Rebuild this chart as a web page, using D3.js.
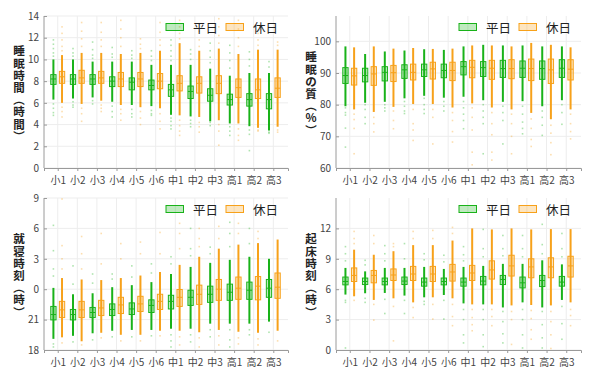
<!DOCTYPE html>
<html>
<head>
<meta charset="utf-8">
<script src="https://cdn.jsdelivr.net/npm/d3@7"></script>
<style>
  body { margin: 0; background: #fff; }
  text { font-family: "Noto Sans CJK JP", "Noto Sans", sans-serif; }
</style>
</head>
<body>
<div id="chart"></div>
<script>
// grade categories
var grades = ["小1","小2","小3","小4","小5","小6","中1","中2","中3","高1","高2","高3"];
var seriesNames = ["平日","休日"];

// each box: [whisker low, q1, median, q3, whisker high]
// sleep duration (hours)
var sleepWk = [[6.3,7.7,8.2,8.6,10.0],[6.4,7.7,8.2,8.6,10.0],[6.5,7.7,8.2,8.6,9.8],[6.1,7.5,8.0,8.4,9.8],[5.8,7.2,7.9,8.3,9.8],[5.7,7.2,7.6,8.1,9.5],
               [4.9,6.6,7.2,7.7,9.5],[4.75,6.4,7.05,7.55,9.5],[4.3,6.15,6.7,7.3,9.15],[4.1,5.8,6.3,6.8,8.5],[3.85,5.7,6.3,6.85,8.75],[3.45,5.45,6.3,6.85,8.75]];
var sleepHo = [[6.0,7.8,8.4,8.9,10.4],[5.9,7.8,8.3,9.0,10.6],[6.2,7.8,8.3,8.9,10.6],[5.8,7.5,8.2,8.8,10.5],[5.6,7.5,8.2,8.8,10.6],[5.5,7.3,8.0,8.7,10.8],
               [4.85,7.1,7.8,8.5,11.5],[4.7,6.9,7.8,8.4,10.8],[4.4,6.85,7.8,8.5,11.0],[4.1,6.5,7.4,8.2,10.5],[3.7,6.4,7.2,8.2,10.9],[3.8,6.5,7.35,8.3,10.9]];
var sleepWkOut = [[11.8,11.4,11.0,10.6,10.3,5.9,5.5,5.1,4.85],[11.0,10.6,10.3,6.1,5.8,5.6],[11.6,10.9,10.4,10.1,6.2,5.9],[11.1,10.5,10.2,5.7,5.2,4.7],
                  [10.8,10.4,10.1,5.4,5.0,4.7],[10.8,10.3,9.9,5.3,5.0,4.85],[11.8,11.3,10.8,10.3,9.9,4.6,4.3,3.9,3.6],[10.9,10.5,10.0,4.4,4.1,3.8],
                  [11.5,10.8,10.2,9.7,4.2,3.9],[11.3,10.6,9.9,9.2,3.8,3.4,3.0],[10.7,10.0,9.4,3.5,3.1,1.6],[9.8,9.3,3.3,3.2]];
var sleepHoOut = [[13.0,12.4,11.8,11.2,10.8,5.6,5.2,4.7],[13.4,12.6,11.9,11.2,5.5,5.0,4.3],[13.4,12.5,11.8,11.2,5.8,5.5,5.2],[13.6,12.8,12.0,11.2,5.4,5.0,4.4],
                  [11.9,11.4,11.0,5.2,4.6,4.0],[13.4,12.5,11.8,11.3,5.0,4.3,3.6],[13.6,13.0,12.4,11.9,4.4,3.9,3.4,3.0],[13.3,12.6,11.8,11.2,4.2,3.8,3.3],
                  [13.75,13.0,12.2,11.5,4.0,3.4,2.1],[13.6,12.8,12.0,11.2,3.6,3.0,2.55],[12.4,11.8,11.3,3.5,3.4],[11.6,11.3,3.5,3.3]];

// sleep quality (%)
var qualWk = [[79.5,86.7,89.2,91.7,98.4],[80.6,87.2,89.2,91.5,96.0],[80.9,87.5,90.2,92.0,96.8],[82.0,88.3,91.0,92.6,97.1],[82.8,88.9,91.0,92.8,97.5],[82.2,88.5,90.8,92.8,97.3],
              [82.5,89.4,92.0,93.6,98.4],[81.4,88.9,91.7,93.6,98.9],[80.9,88.6,91.4,94.0,98.7],[81.1,88.6,91.5,93.8,98.7],[79.5,88.0,91.4,93.8,98.4],[81.4,88.6,91.5,94.2,98.4]];
var qualHo = [[78.5,86.2,89.1,91.5,98.1],[77.7,86.1,89.7,92.0,98.4],[79.3,87.3,90.1,92.4,97.7],[80.2,87.8,90.2,92.8,97.9],[80.2,88.1,91.3,93.4,97.6],[79.1,87.6,90.8,93.4,97.7],
              [80.4,88.5,91.8,94.0,98.7],[79.1,88.0,91.5,94.0,98.7],[78.5,88.2,91.4,94.2,98.4],[77.4,87.6,91.4,94.4,99.5],[75.4,86.7,91.0,94.4,98.9],[78.5,87.8,91.2,94.2,98.1]];
var qualWkOut = [[79.0,77.5,76.7,72.6,66.6],[80.0,78.5,76.0,74.0],[80.0,79.0,78.0],[81.0,79.5,78.0,77.2],[82.0,80.0,78.5,77.2],[81.0,79.5,78.0],
                 [81.0,79.0,77.0,75.0,72.4],[80.0,78.0,76.0,74.0,64.5],[79.5,77.5,75.0,67.6],[79.5,77.0,74.5,72.5,70.8],[78.0,76.0,73.5,70.3],[80.0,77.5,73.8]];
var qualHoOut = [[77.0,75.3,72.5,64.5],[76.0,74.0,71.4],[78.0,75.0,72.4],[78.5,74.0,72.0,68.7],[78.5,76.0,67.6],[77.5,75.0,71.5,68.2],
                 [79.0,76.0,72.0,65.0,61.0],[77.5,74.0,70.5,65.0,62.5],[77.0,74.0,70.0,64.5],[75.5,72.5,69.0,66.8],[73.5,71.0,68.0,64.2],[77.0,74.0,71.5,69.2]];

// bedtime (hours on an 18 -> 33 clock, 24 = midnight)
var bedWk = [[19.1,20.97,21.5,22.3,24.13],[19.4,20.97,21.5,22.0,23.5],[19.65,21.2,21.7,22.2,23.6],[19.9,21.4,22.0,22.55,24.2],[19.98,21.5,22.05,22.65,24.4],[19.98,21.7,22.4,22.95,24.7],
             [20.1,22.05,22.8,23.4,25.5],[20.1,22.4,23.2,23.9,26.2],[20.6,22.7,23.5,24.3,26.6],[20.6,22.9,23.7,24.5,26.9],[20.6,23.0,23.9,24.7,27.2],[20.8,23.2,24.1,24.96,27.0]];
var bedHo = [[19.25,21.2,21.96,22.8,25.1],[18.86,21.2,21.96,22.8,24.96],[19.7,21.4,22.15,22.9,24.9],[19.5,21.6,22.45,23.2,25.1],[19.5,21.8,22.55,23.3,25.35],[19.9,22.0,22.8,23.5,25.7],
             [19.9,22.3,23.2,23.97,26.4],[19.75,22.5,23.5,24.4,27.2],[19.98,22.9,24.0,24.96,28.0],[19.8,23.0,24.1,25.2,28.4],[19.7,22.95,24.3,25.25,28.55],[19.9,23.1,24.2,25.6,28.9]];
var bedWkOut = [[30.3,27.8,26.0,25.3,18.6,18.3],[26.3,24.5,18.8],[25.5,24.6,19.0],[25.5,25.0,19.3],[26.3,25.2,19.3],[26.5,25.6,19.4],
                [27.2,26.5,19.5,18.9,18.3],[30.0,28.0,27.3,19.5,18.8],[28.15,27.5,20.0,19.3],[30.6,29.5,28.2,20.0,19.0,18.3],[30.0,28.5,20.0,19.5],[19.75]];
var bedHoOut = [[32.9,28.3,27.0,26.0,18.7],[29.2,27.5,26.0,18.5],[29.5,26.5,19.2],[28.5,27.0,18.9],[28.65,27.5,18.9],[29.6,27.5,19.4],
                [30.5,29.5,28.0,19.3,18.5],[30.0,29.0,28.2,19.2,18.3],[30.2,29.0,19.4,18.5],[30.5,29.5,19.2,18.6],[29.7,29.0,19.1,18.5],[18.9]];

// wake-up time (hours)
var wakeWk = [[5.47,6.43,6.76,7.2,8.1],[5.6,6.46,6.76,7.1,7.76],[5.63,6.43,6.76,7.1,8.1],[5.37,6.46,6.8,7.2,8.1],[5.2,6.3,6.7,7.1,8.2],[5.43,6.43,6.76,7.1,8.0],
              [4.6,6.3,6.7,7.1,8.2],[4.5,6.43,6.8,7.26,8.3],[4.2,6.46,6.96,7.36,8.5],[4.7,6.13,6.63,7.2,8.5],[4.2,6.26,6.86,7.36,8.85],[4.94,6.3,6.7,7.26,8.45]];
var wakeHo = [[5.3,6.76,7.36,8.1,9.9],[4.94,6.63,7.36,7.85,9.4],[5.1,6.86,7.4,8.0,9.75],[4.7,6.86,7.5,8.25,10.35],[5.2,6.76,7.5,8.25,10.35],[5.1,6.8,7.7,8.45,10.8],
              [4.5,6.86,7.6,8.35,12.0],[4.5,7.0,7.9,8.8,11.9],[4.4,7.3,8.3,9.35,12.0],[4.44,7.13,8.2,9.0,11.9],[4.4,7.13,8.2,9.1,11.93],[4.7,7.2,8.3,9.25,11.93]];
var wakeWkOut = [[10.2,9.5,8.8,4.9,4.7,0.2],[8.85,8.4,5.1,4.7],[10.3,9.5,8.8,5.0,3.6],[10.5,9.0,4.9,3.6],[9.5,8.9,4.8,4.5],[9.35,8.7,4.9,3.05],
                 [10.2,9.4,8.8,4.0,3.0,1.5,0.7],[11.9,10.0,9.2,4.0,3.0,1.5,0.33],[11.3,10.0,9.3,3.8,2.8,1.6,0.7],[11.3,10.0,9.2,4.0,3.0,1.5,0.2],
                 [12.4,10.4,9.5,3.8,2.5,1.2,0.2],[11.5,10.0,9.2,4.3,2.6,1.06]];
var wakeHoOut = [[11.7,11.0,10.5,4.9],[11.3,10.5,4.5,2.95],[10.5,10.2,4.3,0.9],[11.7,11.0,4.2,3.2],[11.8,11.0,4.5,3.05],[12.1,11.5,4.5,3.3,2.4],
                 [4.0,3.2,2.5,1.9],[4.0,3.3,2.4],[3.8,3.0,0.55],[3.9,3.1,2.0,1.06],[3.8,2.8,1.5,0.15],[4.0,3.4,2.4]];

// axis ticks
var sleepTicks = [0,2,4,6,8,10,12,14];
var qualTicks = [60,70,80,90,100];
var bedTicks = [18,21,24,27,30,33];
var bedTickLabels = ["18","21","0","3","6","9"];
var wakeTicks = [0,3,6,9,12];

var colors = ["#19b219", "#f7a11a"];
var fills = ["rgba(25,178,25,0.28)", "rgba(247,161,26,0.28)"];

var W = 598, H = 374;
var svg = d3.select("#chart").append("svg").attr("width", W).attr("height", H);

var panels = [
  { left: 44, top: 16, right: 288, bottom: 168, ymin: 0, ymax: 14, ticks: sleepTicks, labels: null,
    title: ["睡","眠","時","間","︵","時","間","︶"], data: [sleepWk, sleepHo], out: [sleepWkOut, sleepHoOut] },
  { left: 336, top: 16, right: 581, bottom: 168, ymin: 60, ymax: 108, ticks: qualTicks, labels: null,
    title: ["睡","眠","の","質","︵","%","︶"], data: [qualWk, qualHo], out: [qualWkOut, qualHoOut] },
  { left: 44, top: 198, right: 288, bottom: 350, ymin: 18, ymax: 33, ticks: bedTicks, labels: bedTickLabels,
    title: ["就","寝","時","刻","︵","時","︶"], data: [bedWk, bedHo], out: [bedWkOut, bedHoOut] },
  { left: 336, top: 198, right: 581, bottom: 350, ymin: 0, ymax: 15, ticks: wakeTicks, labels: null,
    title: ["起","床","時","刻","︵","時","︶"], data: [wakeWk, wakeHo], out: [wakeWkOut, wakeHoOut] }
];

panels.forEach(function (p) {
  var g = svg.append("g");
  var x = d3.scaleLinear().domain([0.3, 12.75]).range([p.left, p.right]);
  var y = d3.scaleLinear().domain([p.ymin, p.ymax]).range([p.bottom, p.top]);

  // grid
  g.selectAll(".hgrid").data(p.ticks).enter().append("line")
    .attr("x1", p.left).attr("x2", p.right)
    .attr("y1", function (d) { return y(d); }).attr("y2", function (d) { return y(d); })
    .style("stroke", "#ededed").style("stroke-width", 1);
  g.selectAll(".vgrid").data(grades).enter().append("line")
    .attr("x1", function (d, i) { return x(i + 1); }).attr("x2", function (d, i) { return x(i + 1); })
    .attr("y1", p.top).attr("y2", p.bottom)
    .style("stroke", "#ededed").style("stroke-width", 1);

  // outliers
  [0, 1].forEach(function (s) {
    var off = s === 0 ? -0.22 : 0.22;
    p.out[s].forEach(function (vals, i) {
      g.selectAll(null).data(vals).enter().append("rect")
        .attr("x", x(i + 1 + off) - 0.8).attr("y", function (d) { return y(d) - 0.8; })
        .attr("width", 1.6).attr("height", 1.6)
        .style("fill", colors[s]).style("opacity", 0.35);
    });
  });

  // boxes
  [0, 1].forEach(function (s) {
    var off = s === 0 ? -0.22 : 0.22;
    var bw = x(0.27) - x(0);
    var bx = g.selectAll(null).data(p.data[s]).enter().append("g");
    bx.append("line")
      .attr("x1", function (d, i) { return x(i + 1 + off); }).attr("x2", function (d, i) { return x(i + 1 + off); })
      .attr("y1", function (d) { return y(d[0]); }).attr("y2", function (d) { return y(d[4]); })
      .style("stroke", colors[s]).style("stroke-width", 2);
    bx.append("rect")
      .attr("x", function (d, i) { return x(i + 1 + off) - bw / 2; })
      .attr("y", function (d) { return y(d[3]); })
      .attr("width", bw)
      .attr("height", function (d) { return y(d[1]) - y(d[3]); })
      .style("fill", fills[s]).style("stroke", colors[s]).style("stroke-width", 1);
    bx.append("line")
      .attr("x1", function (d, i) { return x(i + 1 + off) - bw / 2; })
      .attr("x2", function (d, i) { return x(i + 1 + off) + bw / 2; })
      .attr("y1", function (d) { return y(d[2]); }).attr("y2", function (d) { return y(d[2]); })
      .style("stroke", colors[s]).style("stroke-width", 1);
  });

  // axes
  var xAxis = d3.axisBottom(x).tickValues(d3.range(1, 13)).tickSize(3)
    .tickFormat(function (d) { return grades[d - 1]; });
  var xg = g.append("g").attr("transform", "translate(0," + p.bottom + ")").call(xAxis);
  xg.select(".domain").style("stroke", "#9a9a9a");
  xg.selectAll(".tick line").style("stroke", "#9a9a9a");
  xg.selectAll("text").style("font-size", "10px").style("fill", "#444").attr("dy", "0.95em");

  var yAxis = d3.axisLeft(y).tickValues(p.ticks).tickSize(-3)
    .tickFormat(function (d, i) { return p.labels ? p.labels[i] : d; });
  var yg = g.append("g").attr("transform", "translate(" + p.left + ",0)").call(yAxis);
  yg.select(".domain").attr("d", "M0," + p.top + "V" + p.bottom).style("stroke", "#9a9a9a");
  yg.selectAll(".tick line").style("stroke", "#9a9a9a");
  yg.selectAll("text").attr("x", -5).style("font-size", "10px").style("fill", "#444");

  // vertical y title, one glyph per line
  var step = 12.2;
  var cy = (p.top + p.bottom) / 2 + 1;
  var y0 = cy - (p.title.length - 1) * step / 2;
  g.selectAll(null).data(p.title).enter().append("text")
    .attr("x", p.left - 25)
    .attr("y", function (d, i) { return y0 + i * step; })
    .attr("text-anchor", "middle").attr("dominant-baseline", "central")
    .style("font-size", "11.5px").style("font-weight", "bold").style("fill", "#222")
    .text(function (d) { return d; });

  // legend
  var lg = g.append("g");
  [0, 1].forEach(function (s) {
    var lx = p.right - (s === 0 ? 122 : 62);
    lg.append("rect").attr("x", lx).attr("y", p.top + 7.5).attr("width", 17.5).attr("height", 7)
      .style("fill", fills[s]).style("stroke", colors[s]).style("stroke-width", 1);
    lg.append("text").attr("x", lx + 27).attr("y", p.top + 11)
      .attr("dominant-baseline", "central")
      .style("font-size", "12.5px").style("fill", "#222")
      .text(seriesNames[s]);
  });
});
</script>
</body>
</html>
